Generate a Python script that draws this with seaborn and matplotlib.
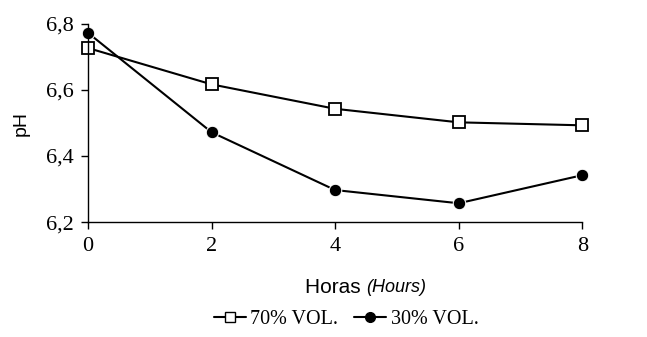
import numpy as np
import pandas as pd
import matplotlib.pyplot as plt
import seaborn as sns

# data
hours = [0, 2, 4, 6, 8]
ph_70 = [6.727, 6.617, 6.543, 6.502, 6.493]
ph_30 = [6.773, 6.472, 6.297, 6.257, 6.342]
series_names = ["70% VOL.", "30% VOL."]
y_ticks = [6.2, 6.4, 6.6, 6.8]

df = pd.DataFrame({
    "hours": hours * 2,
    "ph": ph_70 + ph_30,
    "serie": [series_names[0]] * len(hours) + [series_names[1]] * len(hours),
})

sns.set_style("white")
plt.rcParams.update({"text.color": "black", "axes.labelcolor": "black",
                     "xtick.color": "black", "ytick.color": "black"})

fig, ax = plt.subplots(figsize=(6.47, 3.37), dpi=100)
fig.subplots_adjust(left=0.136, right=0.9, top=0.929, bottom=0.341)

sns.lineplot(data=df, x="hours", y="ph", hue="serie", style="serie",
             palette=["black", "black"], markers=["s", "o"], dashes=False,
             markersize=8, linewidth=1.5, ax=ax, legend=False)

# marker faces: open square, filled circle
lines = ax.get_lines()
lines[0].set_markerfacecolor("white")
lines[0].set_markeredgecolor("black")
lines[0].set_markeredgewidth(1.3)
lines[1].set_markerfacecolor("black")
lines[1].set_markersize(9)

ax.set_xlim(0, 8)
ax.set_ylim(6.2, 6.8)
ax.set_xticks(hours)
ax.set_yticks(y_ticks)
ax.set_yticklabels([f"{v:.1f}".replace(".", ",") for v in y_ticks])
ax.set_xticklabels([str(h) for h in hours])
for lab in ax.get_xticklabels() + ax.get_yticklabels():
    lab.set_family("Liberation Serif")
    lab.set_fontsize(16)

ax.tick_params(axis="both", direction="out", length=5, width=1, color="black",
               labelcolor="black", bottom=True, left=True)
ax.tick_params(axis="x", pad=6)
ax.tick_params(axis="y", pad=5)
sns.despine(ax=ax)
for s in ["left", "bottom"]:
    ax.spines[s].set_color("black")
    ax.spines[s].set_linewidth(1)
for l in lines:
    l.set_clip_on(False)

ax.set_ylabel("pH", family="Liberation Sans", fontsize=14, labelpad=12, color="black")
ax.set_xlabel("")
fig.text(0.566, 0.148, "Horas ", family="Liberation Sans", fontsize=15, ha="right", va="center",
         color="black")
fig.text(0.566, 0.148, "(Hours)", family="Liberation Sans", fontsize=13, style="italic",
         ha="left", va="center", color="black")

handles = [
    plt.Line2D([], [], color="black", marker="s", markerfacecolor="white", markersize=7, lw=1.5),
    plt.Line2D([], [], color="black", marker="o", markerfacecolor="black", markersize=7, lw=1.5),
]
fig.legend(handles, series_names, loc="center", bbox_to_anchor=(0.535, 0.052), ncol=2,
           frameon=False, prop={"family": "Liberation Serif", "size": 14.5},
           handlelength=1.6, handletextpad=0.2, columnspacing=0.8, labelcolor="black")

fig.savefig("out.png", dpi=100)
